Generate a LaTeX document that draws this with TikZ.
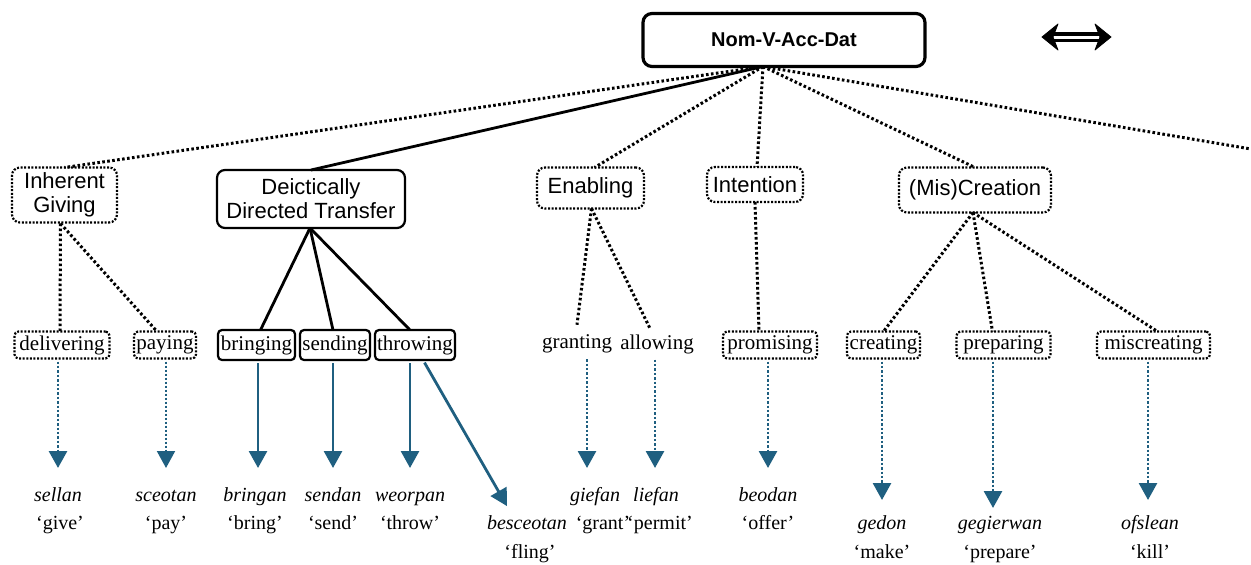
\documentclass[tikz,border=0pt]{standalone}
\usepackage{fontspec}
\setmainfont{Liberation Serif}
\setsansfont{Liberation Sans}
\usetikzlibrary{arrows.meta,calc}
\definecolor{arrowblue}{HTML}{1F5F80}
\begin{document}
\begin{tikzpicture}[x=1pt,y=-1pt,
  every node/.style={inner sep=0pt, outer sep=0pt},
  topbox/.style={draw, line width=3.2pt, rounded corners=9pt, font=\sffamily\bfseries\fontsize{20}{22}\selectfont},
  catsolid/.style={draw, line width=2.2pt, rounded corners=8pt, font=\sffamily\fontsize{22}{24}\selectfont, align=center},
  catdot/.style={draw, line width=2.2pt, dash pattern=on 2pt off 1.6pt, rounded corners=8pt, font=\sffamily\fontsize{22}{24}\selectfont, align=center},
  subsolid/.style={draw, line width=2.2pt, rounded corners=4pt, font=\fontsize{21}{24}\selectfont, minimum height=30pt},
  subdot/.style={draw, line width=2.2pt, dash pattern=on 2pt off 1.6pt, rounded corners=4pt, font=\fontsize{21}{24}\selectfont, minimum height=27pt},
  subplain/.style={font=\fontsize{21}{24}\selectfont},
  word/.style={font=\itshape\fontsize{20}{24}\selectfont, anchor=base},
  gloss/.style={font=\fontsize{20}{24}\selectfont, anchor=base},
  solidlink/.style={line width=2.8pt},
  dotlink/.style={line width=3pt, dash pattern=on 2.6pt off 2.4pt},
  tip/.style={-{Triangle[width=18pt,length=17pt]}},
  barrow/.style={arrowblue, line width=2.8pt, shorten <=3pt, tip},
  bdot/.style={arrowblue, line width=2.8pt, dash pattern=on 2.4pt off 2pt, shorten <=3pt, tip},
  bdotthin/.style={arrowblue, line width=2pt, dash pattern=on 2pt off 2pt, shorten <=3pt, tip},
  dhead/.style={fill=black, draw=black, line width=0.8pt, line join=round}
]
\useasboundingbox (0,0) rectangle (1251,565);

% top node
\node[topbox, minimum width=282pt, minimum height=53pt] (top) at (784,40) {Nom-V-Acc-Dat};
\coordinate (hub) at ($(top.south)+(-21,0)$);
\coordinate (edge) at (1251,149);

% double-headed double arrow
\coordinate (dl) at (1042,37);
\coordinate (dr) at (1111,37);
\draw[line width=3.4pt, double distance=3pt, shorten <=8pt, shorten >=8pt] (dl) -- (dr);
\filldraw[dhead] (dl) -- ($(dl)+(16,-13)$) -- ($(dl)+(11,0)$) -- ($(dl)+(16,13)$) -- cycle;
\filldraw[dhead] (dr) -- ($(dr)+(-16,-13)$) -- ($(dr)+(-11,0)$) -- ($(dr)+(-16,13)$) -- cycle;

% level 1
\node[catdot, minimum width=105pt, minimum height=55pt] (ig) at (64.5,195) {Inherent\\Giving};
\node[catsolid, minimum width=188pt, minimum height=58pt] (ddt) at (311,199) {Deictically\\Directed Transfer};
\node[catdot, minimum width=107pt, minimum height=41pt] (en) at (590.5,188) {Enabling};
\node[catdot, minimum width=96pt, minimum height=35pt] (int) at (755,184.5) {Intention};
\node[catdot, minimum width=152pt, minimum height=45pt] (mc) at (975,190) {(Mis)Creation};

\draw[dotlink] (hub) -- (ig.north);
\draw[solidlink] (hub) -- (ddt.north);
\draw[dotlink] (hub) -- ($(en.north)+(4,0)$);
\draw[dotlink] (hub) -- ($(int.north)+(2,0)$);
\draw[dotlink] (hub) -- (mc.north);
\draw[dotlink] (hub) -- (edge);

% level 2
\node[subdot, minimum width=95pt] (del) at (62,345) {delivering};
\node[subdot, minimum width=62pt] (pay) at (165,345) {paying};
\node[subsolid, minimum width=77pt] (bri) at (256.5,345) {bringing};
\node[subsolid, minimum width=70pt] (sen) at (335,345) {sending};
\node[subsolid, minimum width=80pt] (thr) at (415,345) {throwing};
\node[subplain] (gra) at (577,344) {granting};
\node[subplain] (all) at (657,344) {allowing};
\node[subdot, minimum width=94pt] (pro) at (770,345) {promising};
\node[subdot, minimum width=73pt] (cre) at (883.5,345) {creating};
\node[subdot, minimum width=94pt] (pre) at (1003.5,345) {preparing};
\node[subdot, minimum width=113pt] (mis) at (1153.5,345) {miscreating};

\coordinate (igb) at ($(ig.south)+(-4,1)$);
\coordinate (ddtb) at ($(ddt.south)+(-1,0)$);
\coordinate (enb) at ($(en.south)+(1,0)$);
\coordinate (mcb) at ($(mc.south)+(-2,0)$);
\draw[dotlink] (igb) -- ($(del.north)+(-2,0)$);
\draw[dotlink] (igb) -- ($(pay.north)+(-8,0)$);
\draw[solidlink] (ddtb) -- ($(bri.north)+(4,0)$);
\draw[solidlink] (ddtb) -- ($(sen.north)+(-2,0)$);
\draw[solidlink] (ddtb) -- ($(thr.north)+(-5,0)$);
\draw[dotlink] (enb) -- ($(gra.north)+(0,-10)$);
\draw[dotlink] (enb) -- ($(all.north)+(-7,-6)$);
\draw[dotlink] (int.south) -- ($(pro.north)+(-11,0)$);
\draw[dotlink] (mcb) -- ($(cre.north)+(0,0)$);
\draw[dotlink] (mcb) -- ($(pre.north)+(-11,0)$);
\draw[dotlink] (mcb) -- ($(mis.north)+(4,0)$);

% words
\node[word] (w1) at (58,501) {sellan};
\node[gloss] (g1) at (60,529) {‘give’};
\node[word] (w2) at (166,501) {sceotan};
\node[gloss] (g2) at (166,529) {‘pay’};
\node[word] (w3) at (255,501) {bringan};
\node[gloss] (g3) at (255,529) {‘bring’};
\node[word] (w4) at (333,501) {sendan};
\node[gloss] (g4) at (333,529) {‘send’};
\node[word] (w5) at (410,501) {weorpan};
\node[gloss] (g5) at (410,529) {‘throw’};
\node[word] (w6) at (527,529) {besceotan};
\node[gloss] (g6) at (530,558) {‘fling’};
\node[word] (w7) at (595,501) {giefan};
\node[gloss] (g7) at (603,529) {‘grant’};
\node[word] (w8) at (656,501) {liefan};
\node[gloss] (g8) at (660,529) {‘permit’};
\node[word] (w9) at (768,501) {beodan};
\node[gloss] (g9) at (768,529) {‘offer’};
\node[word] (w10) at (882,529) {gedon};
\node[gloss] (g10) at (882,558) {‘make’};
\node[word] (w11) at (1000,529) {gegierwan};
\node[gloss] (g11) at (1000,558) {‘prepare’};
\node[word] (w12) at (1150,529) {ofslean};
\node[gloss] (g12) at (1150,558) {‘kill’};

\coordinate (rowA) at (0,468);
\coordinate (rowB) at (0,500);

% blue arrows
\draw[bdot] ($(del.south)+(-4,0)$) -- ($(del.south |- rowA)+(-4,0)$);
\draw[bdotthin] ($(pay.south)+(1,0)$) -- ($(pay.south |- rowA)+(1,0)$);
\draw[barrow] ($(bri.south)+(1.5,0)$) -- ($(bri.south |- rowA)+(1.5,0)$);
\draw[barrow] ($(sen.south)+(-2,0)$) -- ($(sen.south |- rowA)+(-2,0)$);
\draw[barrow] ($(thr.south)+(-5,0)$) -- ($(thr.south |- rowA)+(-5,0)$);
\draw[barrow] ($(thr.south)+(8,0)$) -- ($(w6.north west)+(20,-9)$);
\draw[bdot] ($(gra.south)+(10,3)$) -- ($(gra.south |- rowA)+(10,0)$);
\draw[bdot] ($(all.south)+(-2,3)$) -- ($(all.south |- rowA)+(-2,0)$);
\draw[bdot] ($(pro.south)+(-2,0)$) -- ($(pro.south |- rowA)+(-2,0)$);
\draw[bdot] ($(cre.south)+(-1.5,0)$) -- ($(cre.south |- rowB)+(-1.5,0)$);
\draw[bdot] ($(pre.south)+(-10.5,0)$) -- ($(pre.south |- rowB)+(-10.5,8)$);
\draw[bdot] ($(mis.south)+(-5.5,0)$) -- ($(mis.south |- rowB)+(-5.5,0)$);
\end{tikzpicture}
\end{document}
